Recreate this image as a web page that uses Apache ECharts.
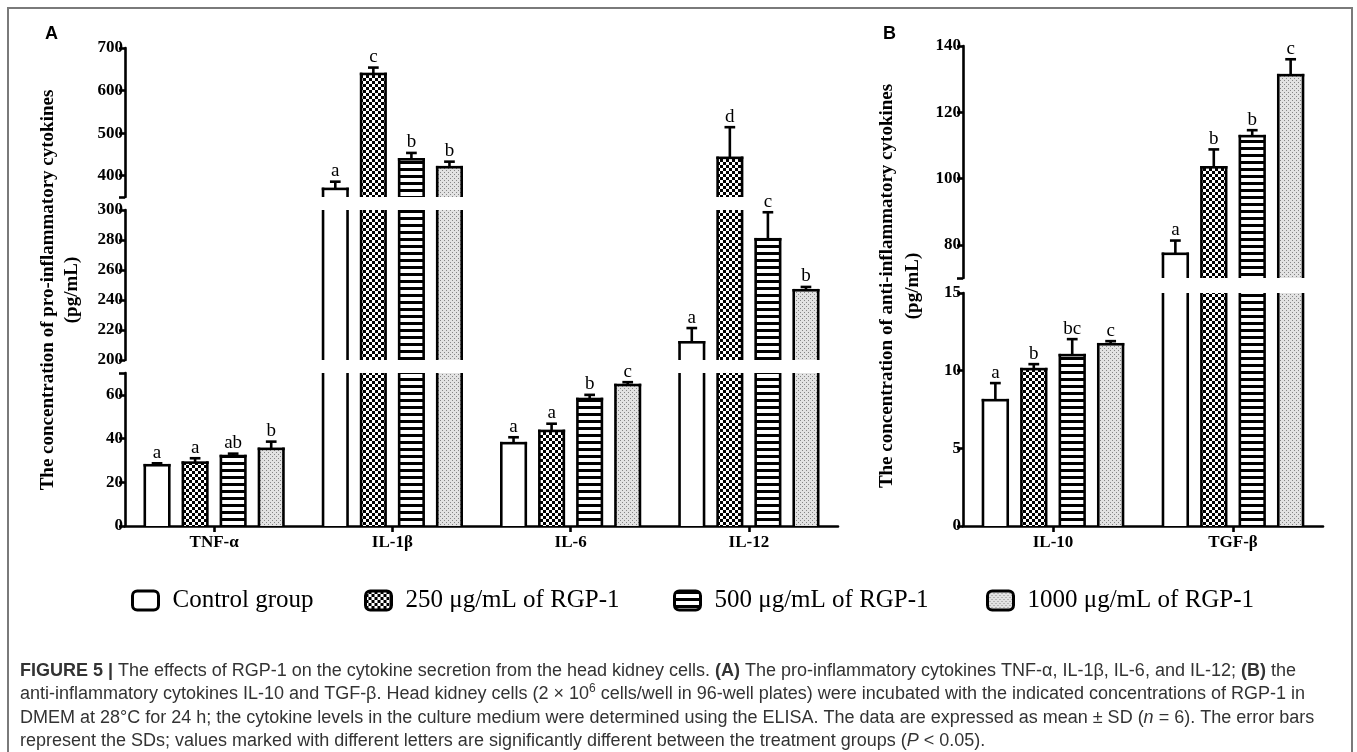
<!DOCTYPE html>
<html>
<head>
<meta charset="utf-8">
<script src="https://cdn.jsdelivr.net/npm/echarts@6/dist/echarts.min.js"></script>
<style>html,body{margin:0;padding:0;background:#fff;}#c{width:1357px;height:752px;}</style>
</head>
<body>
<div id="c"></div>
<script>
// ---------------- DATA ----------------
const treatments = ['Control group', '250 μg/mL of RGP-1', '500 μg/mL of RGP-1', '1000 μg/mL of RGP-1'];

const categoriesA = ['TNF-α', 'IL-1β', 'IL-6', 'IL-12'];
const controlA      = [27.8, 369, 37.9, 211.8];
const controlA_sd   = [0.9, 17, 2.7, 9.5];
const dose250A      = [29.0, 639, 43.5, 442];
const dose250A_sd   = [2.0, 15, 3.3, 72];
const dose500A      = [32.0, 438.5, 58.1, 280.5];
const dose500A_sd   = [1.1, 15, 1.9, 18];
const dose1000A     = [35.3, 420, 64.5, 246.5];
const dose1000A_sd  = [3.3, 13, 1.3, 2.2];
const lettersA = [['a','a','a','a'], ['a','c','a','d'], ['ab','b','b','c'], ['b','b','c','b']];

const categoriesB = ['IL-10', 'TGF-β'];
const controlB      = [8.1, 77.3];
const controlB_sd   = [1.1, 4.0];
const dose250B      = [10.1, 103.4];
const dose250B_sd   = [0.32, 5.4];
const dose500B      = [11.0, 112.8];
const dose500B_sd   = [1.03, 1.8];
const dose1000B     = [11.7, 131.2];
const dose1000B_sd  = [0.2, 4.8];
const lettersB = [['a','a'], ['b','b'], ['bc','b'], ['c','c']];

// broken axis segments: [min, max], tick values, label values
const segA_low  = [0, 70],    ticksA_low  = [0, 20, 40, 60, 70],  labelsA_low  = [0, 20, 40, 60];
const segA_mid  = [200, 300], ticksA_mid  = [200, 220, 240, 260, 280, 300], labelsA_mid = [200, 220, 240, 260, 280, 300];
const segA_high = [350, 700], ticksA_high = [350, 400, 500, 600, 700], labelsA_high = [400, 500, 600, 700];
const segB_low  = [0, 15],    ticksB_low  = [0, 5, 10, 15],       labelsB_low  = [0, 5, 10, 15];
const segB_high = [70, 140],  ticksB_high = [70, 80, 100, 120, 140], labelsB_high = [80, 100, 120, 140];

// ---------------- STYLE ----------------
const SERIF = '"Liberation Serif", "Times New Roman", serif';
const SANS = '"Liberation Sans", Arial, sans-serif';
function makeCanvas(w, h, draw) {
  const c = document.createElement('canvas'); c.width = w; c.height = h;
  draw(c.getContext('2d')); return c;
}
const patterns = [
  '#ffffff',
  { image: makeCanvas(6, 6, g => { g.fillStyle = '#000'; g.fillRect(0,0,6,6); g.fillStyle = '#fff'; g.fillRect(0,0,3,3); g.fillRect(3,3,3,3); }), repeat: 'repeat' },
  { image: makeCanvas(4, 7, g => { g.fillStyle = '#fff'; g.fillRect(0,0,4,7); g.fillStyle = '#000'; g.fillRect(0,0,4,3); }), repeat: 'repeat' },
  { image: makeCanvas(4, 4, g => { g.fillStyle = '#e2e2e2'; g.fillRect(0,0,4,4); g.fillStyle = '#858585'; g.fillRect(0,0,1,1); g.fillRect(2,2,1,1); }), repeat: 'repeat' }
];
const LW = 2.6;       // bar outline width
const BAR = 0.152;    // outer bar width as fraction of category band
const PITCH = 0.2135; // bar-to-bar distance as fraction of band

function makeRender(tIdx, letters) {
  return function (params, api) {
    const cs = params.coordSys;
    const i = params.dataIndex;
    const cat = api.value(0), v = api.value(1), sd = api.value(2);
    const band = api.size([1, 0])[0];
    const cx = api.coord([cat, 0])[0] + (tIdx - 1.5) * band * PITCH;
    const w = band * BAR - LW;
    const yv = api.coord([cat, v])[1];
    const y0 = api.coord([cat, 0])[1];
    const ye = api.coord([cat, v + sd])[1];
    const top = cs.y, bot = cs.y + cs.height;
    const ln = (x1, y1, x2, y2) => ({ type: 'line', shape: { x1, y1, x2, y2 }, style: { stroke: '#000', lineWidth: LW, fill: null } });
    const ch = [];
    const yt = Math.max(yv, top), yb = Math.min(y0, bot);
    if (yb > yt) {
      ch.push({ type: 'rect', shape: { x: cx - w / 2, y: yt, width: w, height: yb - yt }, style: { fill: patterns[tIdx], stroke: null } });
      const topVisible = yv >= top - 0.5;
      const ys = topVisible ? yt - LW / 2 : yt;
      ch.push(ln(cx - w / 2, ys, cx - w / 2, yb));
      ch.push(ln(cx + w / 2, ys, cx + w / 2, yb));
      if (topVisible) ch.push(ln(cx - w / 2 - LW / 2, yv, cx + w / 2 + LW / 2, yv));
    }
    if (ye >= top - 1 && ye <= bot) {
      const capHalf = band * 0.03;
      ch.push(ln(cx, ye, cx, Math.min(yv, bot)));
      ch.push(ln(cx - capHalf, ye, cx + capHalf, ye));
      ch.push({ type: 'text', x: cx, y: ye - 1, style: { text: letters[i], fontFamily: SERIF, fontSize: 19, fill: '#000', align: 'center', verticalAlign: 'bottom' } });
    }
    return { type: 'group', children: ch };
  };
}

const grids = [
  { left: 125, top: 373, width: 713, height: 153 }, // A low
  { left: 125, top: 210, width: 713, height: 150 }, // A mid
  { left: 125, top: 48,  width: 713, height: 149 }, // A high
  { left: 963, top: 293, width: 360, height: 233 }, // B low
  { left: 963, top: 46,  width: 360, height: 232 }  // B high
].map(g => Object.assign({ containLabel: false, outerBoundsMode: 'none' }, g));

const segDefs = [
  { g: 0, cats: categoriesA, seg: segA_low,  ticks: ticksA_low,  labels: labelsA_low,  bottom: true,  panel: 'A' },
  { g: 1, cats: categoriesA, seg: segA_mid,  ticks: ticksA_mid,  labels: labelsA_mid,  bottom: false, panel: 'A' },
  { g: 2, cats: categoriesA, seg: segA_high, ticks: ticksA_high, labels: labelsA_high, bottom: false, panel: 'A' },
  { g: 3, cats: categoriesB, seg: segB_low,  ticks: ticksB_low,  labels: labelsB_low,  bottom: true,  panel: 'B' },
  { g: 4, cats: categoriesB, seg: segB_high, ticks: ticksB_high, labels: labelsB_high, bottom: false, panel: 'B' }
];

const meansA = [controlA, dose250A, dose500A, dose1000A];
const sdsA = [controlA_sd, dose250A_sd, dose500A_sd, dose1000A_sd];
const meansB = [controlB, dose250B, dose500B, dose1000B];
const sdsB = [controlB_sd, dose250B_sd, dose500B_sd, dose1000B_sd];

const axisLineStyle = { color: '#000', width: LW };
const xAxis = segDefs.map(s => ({
  type: 'category', gridIndex: s.g, data: s.cats, show: s.bottom,
  axisLine: { show: true, onZero: false, lineStyle: axisLineStyle },
  axisTick: { show: true, alignWithLabel: true, length: 6, lineStyle: axisLineStyle },
  axisLabel: { color: '#000', fontFamily: SERIF, fontWeight: 'bold', fontSize: 17, margin: 8 },
  splitLine: { show: false }
}));
const yAxis = segDefs.map(s => ({
  type: 'value', gridIndex: s.g, min: s.seg[0], max: s.seg[1],
  axisLine: { show: true, onZero: false, lineStyle: axisLineStyle },
  axisTick: { show: true, length: 6, customValues: s.ticks, lineStyle: axisLineStyle },
  axisLabel: { customValues: s.labels, color: '#000', fontFamily: SERIF, fontWeight: 'bold', fontSize: 17, margin: 2 },
  splitLine: { show: false }
}));

const series = [];
segDefs.forEach(s => {
  const means = s.panel === 'A' ? meansA : meansB;
  const sds = s.panel === 'A' ? sdsA : sdsB;
  const letters = s.panel === 'A' ? lettersA : lettersB;
  treatments.forEach((t, ti) => {
    series.push({
      type: 'custom', name: t, xAxisIndex: s.g, yAxisIndex: s.g, clip: false, silent: true,
      itemStyle: { color: patterns[ti] },
      encode: { x: 0, y: 1 },
      data: means[ti].map((m, i) => [i, m, sds[ti][i]]),
      renderItem: makeRender(ti, letters[ti])
    });
  });
});

const legendX = [131, 364, 673, 986];
const legend = treatments.map((t, i) => ({
  data: [t], left: legendX[i], top: 588, padding: 0, selectedMode: false,
  icon: 'roundRect', itemWidth: 26, itemHeight: 19,
  itemStyle: { borderColor: '#000', borderWidth: 3 },
  textStyle: { fontFamily: SERIF, fontSize: 25, color: '#000', padding: [0, 0, 0, 9] }
}));

const captionText =
  '{b|FIGURE 5 |} The effects of RGP-1 on the cytokine secretion from the head kidney cells. {b|(A)} The pro-inflammatory cytokines TNF-α, IL-1β, IL-6, and IL-12; {b|(B)} the\n' +
  'anti-inflammatory cytokines IL-10 and TGF-β. Head kidney cells (2 × 10{sup|6} cells/well in 96-well plates) were incubated with the indicated concentrations of RGP-1 in\n' +
  'DMEM at 28°C for 24 h; the cytokine levels in the culture medium were determined using the ELISA. The data are expressed as mean ± SD ({i|n} = 6). The error bars\n' +
  'represent the SDs; values marked with different letters are significantly different between the treatment groups ({i|P} < 0.05).';

const CAP_FS = 18, CAP_LH = 23.5;
const titleStyle = { fontFamily: SERIF, fontWeight: 'bold', fontSize: 19, fill: '#000', align: 'center', verticalAlign: 'middle', textAlign: 'center', textVerticalAlign: 'middle' };
const graphic = [
  { type: 'rect', z: -1, shape: { x: 8, y: 8, width: 1344, height: 800 }, style: { fill: null, stroke: '#7a7a7a', lineWidth: 2 } },
  { type: 'text', x: 45, y: 25, style: { text: 'A', fontFamily: SANS, fontWeight: 'bold', fontSize: 18, fill: '#000' } },
  { type: 'text', x: 883, y: 25, style: { text: 'B', fontFamily: SANS, fontWeight: 'bold', fontSize: 18, fill: '#000' } },
  { type: 'text', x: 48, y: 290, rotation: Math.PI / 2, style: Object.assign({ text: 'The concentration of pro-inflammatory cytokines' }, titleStyle) },
  { type: 'text', x: 72, y: 290, rotation: Math.PI / 2, style: Object.assign({ text: '(pg/mL)' }, titleStyle) },
  { type: 'text', x: 887, y: 286, rotation: Math.PI / 2, style: Object.assign({ text: 'The concentration of anti-inflammatory cytokines' }, titleStyle) },
  { type: 'text', x: 913, y: 286, rotation: Math.PI / 2, style: Object.assign({ text: '(pg/mL)' }, titleStyle) },
  { type: 'text', x: 20, y: 659, style: {
      text: captionText, fontFamily: SANS, fontSize: CAP_FS, fill: '#333', lineHeight: CAP_LH,
      rich: {
        b: { fontFamily: SANS, fontSize: CAP_FS, fontWeight: 'bold', fill: '#333', lineHeight: CAP_LH },
        i: { fontFamily: SANS, fontSize: CAP_FS, fontStyle: 'italic', fill: '#333', lineHeight: CAP_LH },
        sup: { fontFamily: SANS, fontSize: 12, fill: '#333', verticalAlign: 'top', lineHeight: CAP_LH, padding: [0, 0, 8, 0] }
      }
  } }
];

const chart = echarts.init(document.getElementById('c'), null, { renderer: 'canvas' });
chart.setOption({
  backgroundColor: '#fff',
  animation: false,
  grid: grids, xAxis, yAxis, series, legend, graphic
});
</script>
</body>
</html>
